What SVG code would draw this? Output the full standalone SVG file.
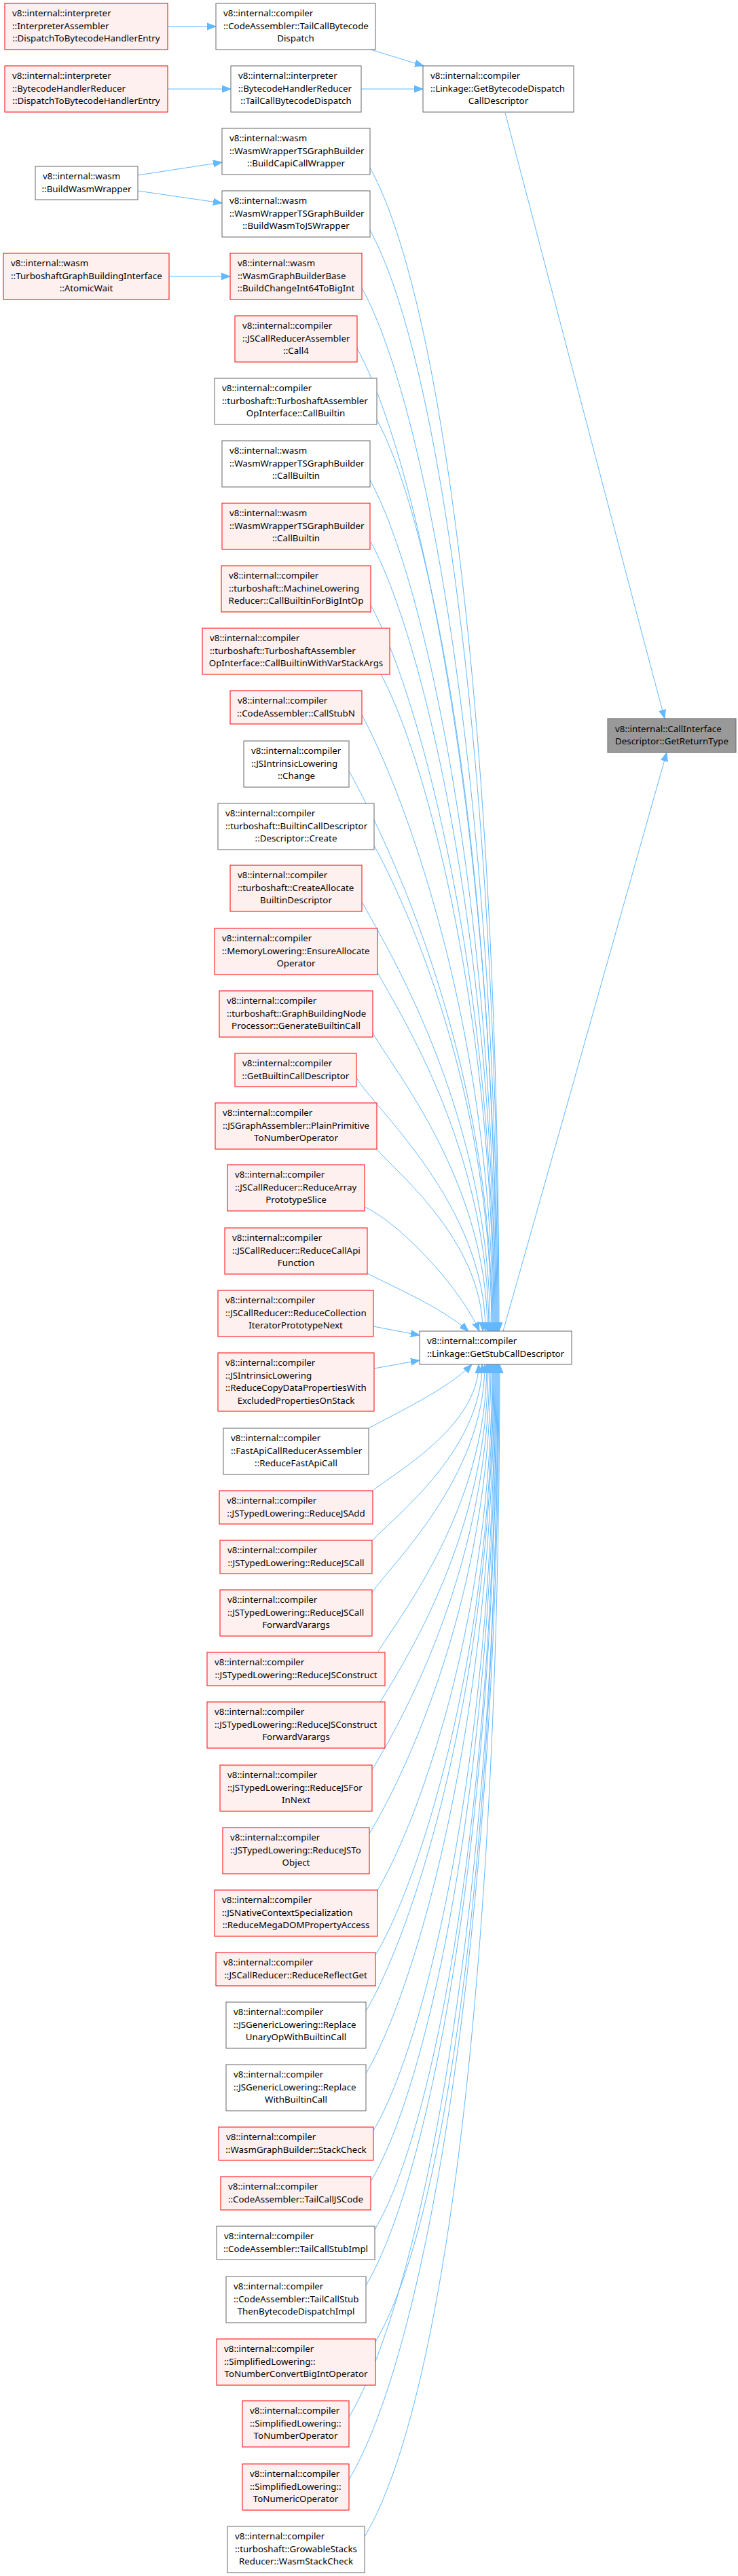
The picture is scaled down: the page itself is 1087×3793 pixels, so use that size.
<svg xmlns="http://www.w3.org/2000/svg" width="1087" height="3793" viewBox="0 0 1087 3793">
<defs>
<style>
.nr{fill:#fff0f0;stroke:#ff0000;stroke-width:1}
.nw{fill:#ffffff;stroke:#666666;stroke-width:1}
.ng{fill:#999999;stroke:#666666;stroke-width:1}
text{font-family:"Noto Sans","DejaVu Sans",sans-serif;font-size:13.33px;fill:#000000}
.c{text-anchor:middle}
.e{fill:none;stroke:#63b8ff;stroke-width:1;marker-end:url(#arr)}
</style>
<marker id="arr" markerUnits="userSpaceOnUse" markerWidth="14" markerHeight="12" viewBox="0 0 14 12" refX="13" refY="6" orient="auto">
<path d="M0,1 L13,6 L0,11 z" fill="#63b8ff" stroke="#63b8ff"/>
</marker>
</defs>
<rect width="1087" height="3793" fill="#ffffff"/>
<g id="edges">
<path class="e" d="M247,39 L318,39"/>
<path class="e" d="M247,131 L340,131"/>
<path class="e" d="M532,131 L623,131"/>
<path class="e" d="M546,73 L624,97"/>
<path class="e" d="M744,166 C790,340 960,990 979,1058"/>
<path class="e" d="M741,1960 L982,1108"/>
<path class="e" d="M203,258 L327,239"/>
<path class="e" d="M203,281 L327,299"/>
<path class="e" d="M249,407 L339,407"/>
<path class="e" d="M545,247 C655,447 735,1104 735,1960"/>
<path class="e" d="M545,339 C649,529 734,1150 734,1960"/>
<path class="e" d="M533,424 C632,604 733,1192 733,1960"/>
<path class="e" d="M526,513 C619,682 732,1237 732,1960"/>
<path class="e" d="M555,618 C641,775 731,1289 731,1960"/>
<path class="e" d="M545,707 C626,854 730,1334 730,1960"/>
<path class="e" d="M546,798 C621,934 729,1379 729,1960"/>
<path class="e" d="M546,891 C615,1016 728,1426 728,1960"/>
<path class="e" d="M561,993 C623,1106 727,1477 727,1960"/>
<path class="e" d="M533,1053 C591,1159 726,1507 726,1960"/>
<path class="e" d="M514,1135 C567,1232 725,1548 725,1960"/>
<path class="e" d="M551,1245 C597,1329 724,1603 724,1960"/>
<path class="e" d="M533,1328 C574,1402 722,1644 722,1960"/>
<path class="e" d="M556,1432 C590,1494 720,1696 720,1960"/>
<path class="e" d="M549,1521 C577,1572 718,1740 718,1960"/>
<path class="e" d="M525,1587 C550,1631 715,1774 715,1960"/>
<path class="e" d="M555,1692 C580,1723 711,1826 711,1960"/>
<path class="e" d="M537,1777 C595,1805 680,1900 706,1960"/>
<path class="e" d="M541,1875 C580,1895 650,1925 690,1960"/>
<path class="e" d="M550,1953 L618,1966"/>
<path class="e" d="M551,2015 L618,2003"/>
<path class="e" d="M543,2103 C585,2080 660,2045 695,2009"/>
<path class="e" d="M549,2195 C574,2173 705,2102 705,2009"/>
<path class="e" d="M548,2269 C573,2239 710,2139 710,2009"/>
<path class="e" d="M548,2345 C573,2306 714,2177 714,2009"/>
<path class="e" d="M557,2432 C586,2383 717,2221 717,2009"/>
<path class="e" d="M560,2506 C595,2448 719,2258 719,2009"/>
<path class="e" d="M548,2606 C590,2536 721,2308 721,2009"/>
<path class="e" d="M544,2700 C593,2619 723,2355 723,2009"/>
<path class="e" d="M555,2785 C610,2694 725,2397 725,2009"/>
<path class="e" d="M554,2877 C615,2775 726,2443 726,2009"/>
<path class="e" d="M539,2961 C606,2850 727,2485 727,2009"/>
<path class="e" d="M539,3053 C612,2931 728,2531 728,2009"/>
<path class="e" d="M550,3137 C629,3005 729,2573 729,2009"/>
<path class="e" d="M546,3212 C631,3071 730,2611 730,2009"/>
<path class="e" d="M552,3283 C641,3134 731,2646 731,2009"/>
<path class="e" d="M539,3365 C634,3206 732,2687 732,2009"/>
<path class="e" d="M553,3448 C654,3280 733,2729 733,2009"/>
<path class="e" d="M514,3559 C623,3378 734,2784 734,2009"/>
<path class="e" d="M514,3651 C629,3459 735,2830 735,2009"/>
<path class="e" d="M537,3735 C658,3533 736,2872 736,2009"/>
</g>
<g id="n1"><rect class="nr" x="7" y="5" width="240" height="68"/><text x="18" y="24">v8::internal::interpreter</text><text x="18" y="42.7">::InterpreterAssembler</text><text class="c" x="127" y="61.3">::DispatchToBytecodeHandlerEntry</text></g>
<g id="n2"><rect class="nw" x="318" y="5" width="235" height="68"/><text x="329" y="24">v8::internal::compiler</text><text x="329" y="42.7">::CodeAssembler::TailCallBytecode</text><text class="c" x="435.5" y="61.3">Dispatch</text></g>
<g id="n3"><rect class="nr" x="7" y="97" width="240" height="68"/><text x="18" y="116">v8::internal::interpreter</text><text x="18" y="134.7">::BytecodeHandlerReducer</text><text class="c" x="127" y="153.3">::DispatchToBytecodeHandlerEntry</text></g>
<g id="n4"><rect class="nw" x="340" y="97" width="192" height="68"/><text x="351" y="116">v8::internal::interpreter</text><text x="351" y="134.7">::BytecodeHandlerReducer</text><text class="c" x="436" y="153.3">::TailCallBytecodeDispatch</text></g>
<g id="n5"><rect class="nw" x="623" y="97" width="222" height="68"/><text x="634" y="116">v8::internal::compiler</text><text x="634" y="134.7">::Linkage::GetBytecodeDispatch</text><text class="c" x="734" y="153.3">CallDescriptor</text></g>
<g id="n6"><rect class="nw" x="52" y="245" width="151" height="49"/><text x="63" y="264">v8::internal::wasm</text><text class="c" x="127.5" y="282.7">::BuildWasmWrapper</text></g>
<g id="n7"><rect class="nw" x="327" y="189" width="218" height="68"/><text x="338" y="208">v8::internal::wasm</text><text x="338" y="226.7">::WasmWrapperTSGraphBuilder</text><text class="c" x="436" y="245.3">::BuildCapiCallWrapper</text></g>
<g id="n8"><rect class="nw" x="327" y="281" width="218" height="68"/><text x="338" y="300">v8::internal::wasm</text><text x="338" y="318.7">::WasmWrapperTSGraphBuilder</text><text class="c" x="436" y="337.3">::BuildWasmToJSWrapper</text></g>
<g id="n9"><rect class="nr" x="5" y="373" width="244" height="68"/><text x="16" y="392">v8::internal::wasm</text><text x="16" y="410.7">::TurboshaftGraphBuildingInterface</text><text class="c" x="127" y="429.3">::AtomicWait</text></g>
<g id="n10"><rect class="nr" x="339" y="373" width="194" height="68"/><text x="350" y="392">v8::internal::wasm</text><text x="350" y="410.7">::WasmGraphBuilderBase</text><text class="c" x="436" y="429.3">::BuildChangeInt64ToBigInt</text></g>
<g id="n11"><rect class="nr" x="346" y="465" width="180" height="68"/><text x="357" y="484">v8::internal::compiler</text><text x="357" y="502.7">::JSCallReducerAssembler</text><text class="c" x="436" y="521.3">::Call4</text></g>
<g id="n12"><rect class="nw" x="316" y="557" width="239" height="68"/><text x="327" y="576">v8::internal::compiler</text><text x="327" y="594.7">::turboshaft::TurboshaftAssembler</text><text class="c" x="435.5" y="613.3">OpInterface::CallBuiltin</text></g>
<g id="n13"><rect class="nw" x="327" y="649" width="218" height="68"/><text x="338" y="668">v8::internal::wasm</text><text x="338" y="686.7">::WasmWrapperTSGraphBuilder</text><text class="c" x="436" y="705.3">::CallBuiltin</text></g>
<g id="n14"><rect class="nr" x="327" y="741" width="218" height="68"/><text x="338" y="760">v8::internal::wasm</text><text x="338" y="778.7">::WasmWrapperTSGraphBuilder</text><text class="c" x="436" y="797.3">::CallBuiltin</text></g>
<g id="n15"><rect class="nr" x="326" y="833" width="220" height="68"/><text x="337" y="852">v8::internal::compiler</text><text x="337" y="870.7">::turboshaft::MachineLowering</text><text class="c" x="436" y="889.3">Reducer::CallBuiltinForBigIntOp</text></g>
<g id="n16"><rect class="nr" x="298" y="925" width="276" height="68"/><text x="309" y="944">v8::internal::compiler</text><text x="309" y="962.7">::turboshaft::TurboshaftAssembler</text><text class="c" x="436" y="981.3">OpInterface::CallBuiltinWithVarStackArgs</text></g>
<g id="n17"><rect class="nr" x="339" y="1017" width="194" height="49"/><text x="350" y="1036">v8::internal::compiler</text><text class="c" x="436" y="1054.7">::CodeAssembler::CallStubN</text></g>
<g id="n18"><rect class="ng" x="895" y="1058" width="189" height="50"/><text x="906" y="1077.5">v8::internal::CallInterface</text><text class="c" x="989.5" y="1096.2">Descriptor::GetReturnType</text></g>
<g id="n19"><rect class="nw" x="359" y="1091" width="155" height="68"/><text x="370" y="1110">v8::internal::compiler</text><text x="370" y="1128.7">::JSIntrinsicLowering</text><text class="c" x="436.5" y="1147.3">::Change</text></g>
<g id="n20"><rect class="nw" x="321" y="1183" width="230" height="68"/><text x="332" y="1202">v8::internal::compiler</text><text x="332" y="1220.7">::turboshaft::BuiltinCallDescriptor</text><text class="c" x="436" y="1239.3">::Descriptor::Create</text></g>
<g id="n21"><rect class="nr" x="339" y="1274" width="194" height="68"/><text x="350" y="1293">v8::internal::compiler</text><text x="350" y="1311.7">::turboshaft::CreateAllocate</text><text class="c" x="436" y="1330.3">BuiltinDescriptor</text></g>
<g id="n22"><rect class="nr" x="316" y="1367" width="240" height="68"/><text x="327" y="1386">v8::internal::compiler</text><text x="327" y="1404.7">::MemoryLowering::EnsureAllocate</text><text class="c" x="436" y="1423.3">Operator</text></g>
<g id="n23"><rect class="nr" x="323" y="1459" width="226" height="68"/><text x="334" y="1478">v8::internal::compiler</text><text x="334" y="1496.7">::turboshaft::GraphBuildingNode</text><text class="c" x="436" y="1515.3">Processor::GenerateBuiltinCall</text></g>
<g id="n24"><rect class="nr" x="346" y="1551" width="179" height="49"/><text x="357" y="1570">v8::internal::compiler</text><text class="c" x="435.5" y="1588.7">::GetBuiltinCallDescriptor</text></g>
<g id="n25"><rect class="nr" x="317" y="1624" width="238" height="68"/><text x="328" y="1643">v8::internal::compiler</text><text x="328" y="1661.7">::JSGraphAssembler::PlainPrimitive</text><text class="c" x="436" y="1680.3">ToNumberOperator</text></g>
<g id="n26"><rect class="nr" x="335" y="1715" width="202" height="68"/><text x="346" y="1734">v8::internal::compiler</text><text x="346" y="1752.7">::JSCallReducer::ReduceArray</text><text class="c" x="436" y="1771.3">PrototypeSlice</text></g>
<g id="n27"><rect class="nr" x="331" y="1808" width="210" height="68"/><text x="342" y="1827">v8::internal::compiler</text><text x="342" y="1845.7">::JSCallReducer::ReduceCallApi</text><text class="c" x="436" y="1864.3">Function</text></g>
<g id="n28"><rect class="nr" x="321" y="1900" width="229" height="68"/><text x="332" y="1919">v8::internal::compiler</text><text x="332" y="1937.7">::JSCallReducer::ReduceCollection</text><text class="c" x="435.5" y="1956.3">IteratorPrototypeNext</text></g>
<g id="n29"><rect class="nw" x="618" y="1960" width="224" height="49"/><text x="629" y="1979">v8::internal::compiler</text><text class="c" x="730" y="1997.7">::Linkage::GetStubCallDescriptor</text></g>
<g id="n30"><rect class="nr" x="321" y="1992" width="230" height="86"/><text x="332" y="2011">v8::internal::compiler</text><text x="332" y="2029.7">::JSIntrinsicLowering</text><text x="332" y="2048.3">::ReduceCopyDataPropertiesWith</text><text class="c" x="436" y="2067">ExcludedPropertiesOnStack</text></g>
<g id="n31"><rect class="nw" x="329" y="2103" width="214" height="68"/><text x="340" y="2122">v8::internal::compiler</text><text x="340" y="2140.7">::FastApiCallReducerAssembler</text><text class="c" x="436" y="2159.3">::ReduceFastApiCall</text></g>
<g id="n32"><rect class="nr" x="323" y="2195" width="226" height="49"/><text x="334" y="2214">v8::internal::compiler</text><text class="c" x="436" y="2232.7">::JSTypedLowering::ReduceJSAdd</text></g>
<g id="n33"><rect class="nr" x="324" y="2268" width="224" height="49"/><text x="335" y="2287">v8::internal::compiler</text><text class="c" x="436" y="2305.7">::JSTypedLowering::ReduceJSCall</text></g>
<g id="n34"><rect class="nr" x="324" y="2341" width="224" height="68"/><text x="335" y="2360">v8::internal::compiler</text><text x="335" y="2378.7">::JSTypedLowering::ReduceJSCall</text><text class="c" x="436" y="2397.3">ForwardVarargs</text></g>
<g id="n35"><rect class="nr" x="305" y="2433" width="262" height="49"/><text x="316" y="2452">v8::internal::compiler</text><text class="c" x="436" y="2470.7">::JSTypedLowering::ReduceJSConstruct</text></g>
<g id="n36"><rect class="nr" x="305" y="2506" width="262" height="68"/><text x="316" y="2525">v8::internal::compiler</text><text x="316" y="2543.7">::JSTypedLowering::ReduceJSConstruct</text><text class="c" x="436" y="2562.3">ForwardVarargs</text></g>
<g id="n37"><rect class="nr" x="324" y="2599" width="224" height="68"/><text x="335" y="2618">v8::internal::compiler</text><text x="335" y="2636.7">::JSTypedLowering::ReduceJSFor</text><text class="c" x="436" y="2655.3">InNext</text></g>
<g id="n38"><rect class="nr" x="328" y="2691" width="216" height="68"/><text x="339" y="2710">v8::internal::compiler</text><text x="339" y="2728.7">::JSTypedLowering::ReduceJSTo</text><text class="c" x="436" y="2747.3">Object</text></g>
<g id="n39"><rect class="nr" x="316" y="2783" width="240" height="68"/><text x="327" y="2802">v8::internal::compiler</text><text x="327" y="2820.7">::JSNativeContextSpecialization</text><text class="c" x="436" y="2839.3">::ReduceMegaDOMPropertyAccess</text></g>
<g id="n40"><rect class="nr" x="318" y="2875" width="235" height="49"/><text x="329" y="2894">v8::internal::compiler</text><text class="c" x="435.5" y="2912.7">::JSCallReducer::ReduceReflectGet</text></g>
<g id="n41"><rect class="nw" x="333" y="2948" width="206" height="68"/><text x="344" y="2967">v8::internal::compiler</text><text x="344" y="2985.7">::JSGenericLowering::Replace</text><text class="c" x="436" y="3004.3">UnaryOpWithBuiltinCall</text></g>
<g id="n42"><rect class="nw" x="333" y="3040" width="206" height="68"/><text x="344" y="3059">v8::internal::compiler</text><text x="344" y="3077.7">::JSGenericLowering::Replace</text><text class="c" x="436" y="3096.3">WithBuiltinCall</text></g>
<g id="n43"><rect class="nr" x="322" y="3132" width="228" height="49"/><text x="333" y="3151">v8::internal::compiler</text><text class="c" x="436" y="3169.7">::WasmGraphBuilder::StackCheck</text></g>
<g id="n44"><rect class="nr" x="325" y="3205" width="221" height="49"/><text x="336" y="3224">v8::internal::compiler</text><text class="c" x="435.5" y="3242.7">::CodeAssembler::TailCallJSCode</text></g>
<g id="n45"><rect class="nw" x="319" y="3278" width="233" height="49"/><text x="330" y="3297">v8::internal::compiler</text><text class="c" x="435.5" y="3315.7">::CodeAssembler::TailCallStubImpl</text></g>
<g id="n46"><rect class="nw" x="333" y="3352" width="206" height="68"/><text x="344" y="3371">v8::internal::compiler</text><text x="344" y="3389.7">::CodeAssembler::TailCallStub</text><text class="c" x="436" y="3408.3">ThenBytecodeDispatchImpl</text></g>
<g id="n47"><rect class="nr" x="319" y="3444" width="234" height="68"/><text x="330" y="3463">v8::internal::compiler</text><text x="330" y="3481.7">::SimplifiedLowering::</text><text class="c" x="436" y="3500.3">ToNumberConvertBigIntOperator</text></g>
<g id="n48"><rect class="nr" x="357" y="3535" width="157" height="68"/><text x="368" y="3554">v8::internal::compiler</text><text x="368" y="3572.7">::SimplifiedLowering::</text><text class="c" x="435.5" y="3591.3">ToNumberOperator</text></g>
<g id="n49"><rect class="nr" x="357" y="3628" width="157" height="68"/><text x="368" y="3647">v8::internal::compiler</text><text x="368" y="3665.7">::SimplifiedLowering::</text><text class="c" x="435.5" y="3684.3">ToNumericOperator</text></g>
<g id="n50"><rect class="nw" x="335" y="3720" width="202" height="68"/><text x="346" y="3739">v8::internal::compiler</text><text x="346" y="3757.7">::turboshaft::GrowableStacks</text><text class="c" x="436" y="3776.3">Reducer::WasmStackCheck</text></g>
</svg>
